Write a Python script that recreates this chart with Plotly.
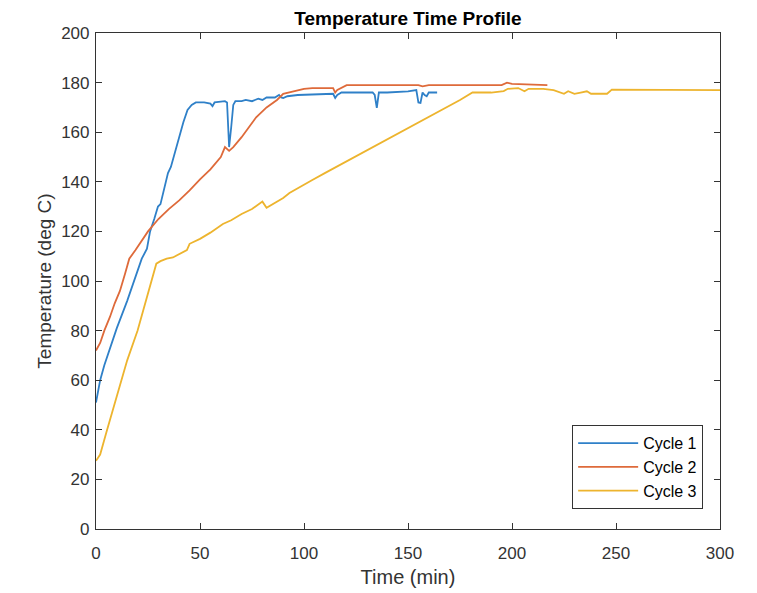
import plotly.graph_objects as go

cycle1_t = [0, 2, 4, 6.7, 10, 15, 19.7, 22, 24.5, 26, 28, 29.8, 31, 33, 34.6, 36, 38, 40, 42, 44, 46, 48, 52, 55, 56, 57, 62, 63, 64, 65, 66, 67, 70, 72, 75, 78, 80, 82, 86, 88, 89, 90, 92, 97, 110, 114, 115, 116, 118, 125, 133, 134, 135, 136, 140, 150, 154, 155, 156, 157, 158, 159, 160, 164]
cycle1_T = [51, 60, 66, 73, 81, 92, 104, 109, 113, 120, 125, 130, 131, 138, 143.5, 146, 152, 159, 164, 169, 171, 172, 172, 171.5, 170.5, 172, 172.5, 172, 154, 162, 171, 172.5, 172.5, 173, 172.5, 173.5, 173, 174, 174, 175, 174, 173.8, 174.5, 175, 175.5, 175.5, 173.8, 175, 176, 176, 176, 175, 169.8, 176, 176, 176.5, 177, 172, 171.8, 176, 175, 174.5, 176, 176]

cycle2_t = [0, 2, 4, 6.7, 9, 11.5, 14, 16, 19, 22, 25, 30, 35, 40, 45, 50, 55, 60, 62, 64, 66, 70, 77, 82, 87, 90, 95, 100, 104, 114, 115, 116, 120.5, 130, 150, 155, 157, 160, 195, 197.6, 200, 217]
cycle2_T = [72, 75, 80, 85.5, 91, 96, 103, 109, 112.5, 116, 120, 125, 129, 132.5, 136.5, 141, 145, 150, 154, 152.5, 154, 158, 166, 170, 173, 175.5, 176.5, 177.5, 177.8, 177.8, 176, 177, 179, 179, 179, 179, 178.5, 179, 179, 180, 179.5, 179]

cycle3_t = [0, 2, 5, 10, 15, 20, 24, 26, 28, 29, 31, 34, 37, 39, 41, 43.7, 45, 50, 55, 61, 65, 70, 75, 80, 82, 85, 90, 93, 100, 104, 110, 120, 130, 136.5, 145, 155, 160, 168.7, 175, 181, 190, 196, 198, 203, 206, 208, 215, 220, 222, 225, 227, 230, 233, 236, 238, 245.7, 248, 300]
cycle3_T = [27.5, 30, 39, 54, 68, 80, 92, 97.5, 104, 107, 108, 109, 109.5, 110.5, 111.5, 112.5, 115, 117, 119.5, 123, 124.5, 127, 129, 132, 129.5, 131, 133.5, 135.5, 139, 140.7, 143.5, 148, 152.5, 155.6, 159.5, 164, 166, 170, 173, 176, 176, 176.6, 177.5, 177.8, 176.5, 177.5, 177.5, 177, 176.5, 175.5, 176.5, 175.5, 176, 176.5, 175.5, 175.5, 177.2, 177]

series_names = ["Cycle 1", "Cycle 2", "Cycle 3"]
x_ticks = [0, 50, 100, 150, 200, 250, 300]
y_ticks = list(range(0, 201, 20))

colors = ["#2F80C8", "#DE6A3A", "#EDB42E"]
font = "Liberation Sans, Arial, sans-serif"
axis_color = "#333333"

fig = go.Figure()
for name, t, T, c in zip(series_names, [cycle1_t, cycle2_t, cycle3_t],
                         [cycle1_T, cycle2_T, cycle3_T], colors):
    fig.add_trace(go.Scatter(x=t, y=T, mode="lines", name=name,
                             line=dict(color=c, width=1.8)))

axis_common = dict(showline=True, linecolor=axis_color, linewidth=1.2,
                   mirror="ticks", ticks="inside", ticklen=6,
                   tickcolor=axis_color, showgrid=False, zeroline=False,
                   tickfont=dict(family=font, size=17, color=axis_color))

fig.update_layout(
    width=757, height=593,
    paper_bgcolor="white", plot_bgcolor="white",
    margin=dict(l=88, r=45, t=25, b=72, autoexpand=False),
    title=dict(text="<b>Temperature Time Profile</b>", x=0.5,
               xanchor="center", y=0.983, yanchor="middle",
               font=dict(family=font, size=19, color="#000000"),
               xref="paper"),
    xaxis=dict(range=[0, 300], tickvals=x_ticks, ticklabelstandoff=8,
               title=dict(text="Time (min)", standoff=8,
                          font=dict(family=font, size=20, color=axis_color)),
               **axis_common),
    yaxis=dict(range=[0, 200], tickvals=y_ticks, ticklabelstandoff=2,
               title=dict(text="Temperature (deg C)", standoff=4,
                          font=dict(family=font, size=19, color=axis_color)),
               **axis_common),
    legend=dict(x=0.973, y=0.040, xanchor="right", yanchor="bottom",
                bgcolor="white", bordercolor=axis_color, borderwidth=1,
                font=dict(family=font, size=16, color="#000000"),
                itemwidth=60, tracegroupgap=0),
    showlegend=True,
)

fig.write_html("out.html")
